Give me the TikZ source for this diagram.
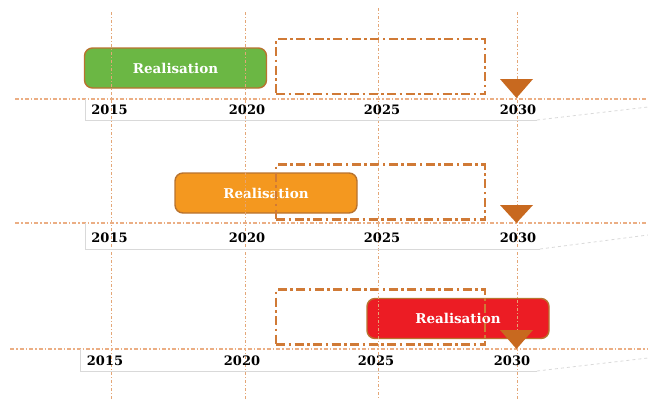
\documentclass[tikz,border=0pt]{standalone}
\usepackage{fontspec}
\newfontfamily\tlfont{DejaVu Serif}
\usetikzlibrary{positioning}

\definecolor{boxedge}{HTML}{B8732F}
\definecolor{planorange}{HTML}{D07A36}
\definecolor{gridorange}{HTML}{E4A676}
\definecolor{lineorange}{HTML}{EBAE84}
\definecolor{bandgray}{HTML}{D9D9D9}
\definecolor{trifill}{HTML}{C8691F}
\definecolor{realgreen}{HTML}{6BB744}
\definecolor{realorange}{HTML}{F4981F}
\definecolor{realred}{HTML}{EC1C24}

\begin{document}
\begin{tikzpicture}[x=1pt,y=-1pt,
    realbox/.style={rectangle,rounded corners=8pt,draw=boxedge,line width=1.4pt,minimum width=182pt,minimum height=40pt,text=white,font=\tlfont\bfseries\fontsize{13.5}{15}\selectfont},
    planbox/.style={rectangle,draw=planorange,line width=2.6pt,dash pattern=on 9pt off 3.5pt on 2.5pt off 3.5pt,minimum width=209pt,minimum height=55pt},
    gridline/.style={gridorange,line width=1pt,dash pattern=on 3pt off 2pt on 1pt off 2pt},
    timeline/.style={lineorange,line width=1.1pt,dash pattern=on 4pt off 2pt on 1.5pt off 2pt},
    band/.style={bandgray,line width=0.8pt},
    year/.style={font=\tlfont\bfseries\fontsize{13}{15}\selectfont,inner sep=1pt},
    marker/.style={fill=trifill}]
    \useasboundingbox (0,0) rectangle (648,399);

    % Realisation boxes
    \node[realbox,fill=realgreen] (real1) at (175.5,68) {Realisation};
    \node[realbox,fill=realorange] (real2) at (266,193) {Realisation};
    \node[realbox,fill=realred] (real3) at (458,318.5) {Realisation};

    % Planned period
    \node[planbox] (plan1) at (380.5,66.5) {};
    \node[planbox] (plan2) at (380.5,192) {};
    \node[planbox] (plan3) at (380.5,317) {};

    % Year grid
    \draw[gridline] (111,12) -- (111,399);
    \draw[gridline] (245,12) -- (245,399);
    \draw[gridline] (378,8) -- (378,399);
    \draw[gridline] (517,12) -- (517,399);

    % Time axes
    \draw[timeline] (15,99) -- (648,99);
    \draw[timeline] (15,223) -- (648,223);
    \draw[timeline] (10,349) -- (648,349);
    \draw[band] (85,99) -- (85,120) -- (537,120);
    \draw[band,dashed] (537,120) -- (648,107);
    \draw[band] (85,223) -- (85,249) -- (540,249);
    \draw[band,dashed] (540,249) -- (648,235);
    \draw[band] (80,349) -- (80,371) -- (537,371);
    \draw[band,dashed] (537,371) -- (648,358);

    % Years
    \foreach \yr/\xx in {2015/109.5,2020/247,2025/382,2030/518}
        \node[year] (top\yr) at (\xx,110) {\yr};
    \foreach \yr/\xx in {2015/109.5,2020/247,2025/382,2030/518}
        \node[year] (mid\yr) at (\xx,238) {\yr};
    \foreach \yr/\xx in {2015/105,2020/242,2025/376,2030/512}
        \node[year] (low\yr) at (\xx,361) {\yr};

    % Deadline markers
    \fill[marker] (500,79) -- (533,79) -- (516.5,98) -- cycle;
    \fill[marker] (500,205) -- (533,205) -- (516.5,223) -- cycle;
    \fill[marker] (500,330) -- (533,330) -- (516.5,349) -- cycle;
\end{tikzpicture}
\end{document}
